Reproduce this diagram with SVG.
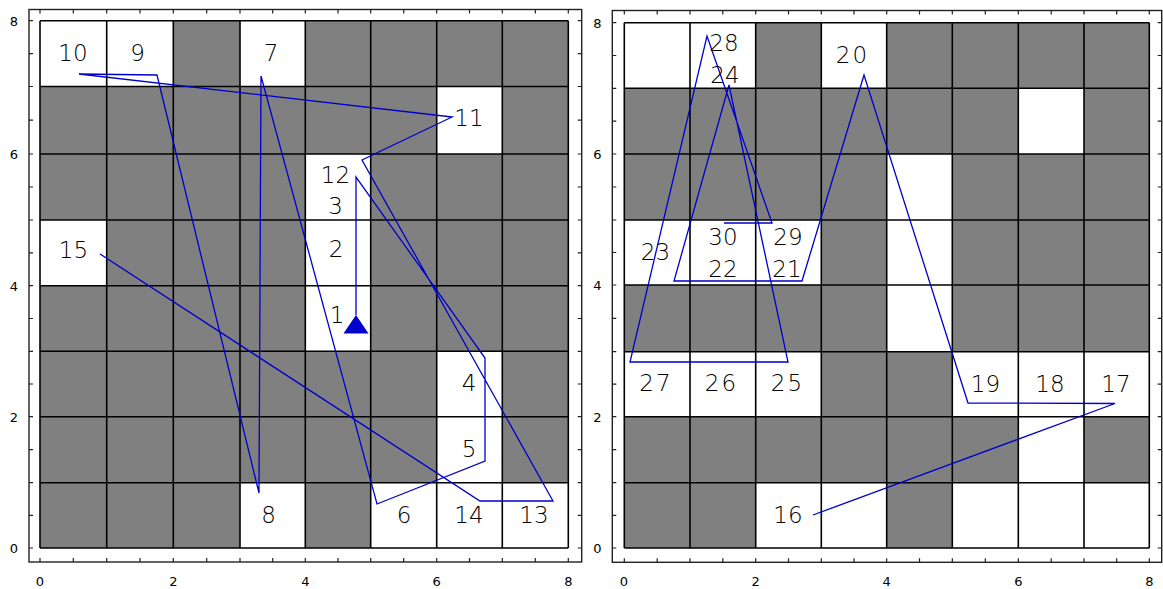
<svg xmlns="http://www.w3.org/2000/svg" width="1163" height="589" viewBox="0 0 1163 589">
<style>
.bg{fill:#ffffff}
.dark{fill:#808080}
.white{fill:#ffffff}
.grid{fill:none;stroke:#000;stroke-width:1.6}
.frame{fill:none;stroke:#222;stroke-width:1.4}
.tick{fill:none;stroke:#222;stroke-width:1.2}
.path{fill:none;stroke:#0000cc;stroke-width:1.3;stroke-linejoin:miter}
.lbl{font-family:"DejaVu Sans","Liberation Sans",sans-serif;font-size:23px;font-weight:300;fill:#000;text-anchor:middle}
.ax{font-family:"DejaVu Sans","Liberation Sans",sans-serif;font-size:13px;fill:#000;text-anchor:middle}
</style>
<rect class="bg" x="0" y="0" width="1163" height="589"/>

<!-- LEFT PANEL -->
<g id="left-panel">
  <g id="left-frame">
    <rect class="frame" x="29" y="9.5" width="552.7" height="552.5"/>
    <path class="tick" d="M40,562v-4M73.3,562v-4M106.7,562v-4M140,562v-4M173.3,562v-4M206.7,562v-4M240,562v-4M272.7,562v-4M305.3,562v-4M338,562v-4M370.7,562v-4M403.7,562v-4M436.7,562v-4M469.5,562v-4M502.3,562v-4M535.3,562v-4M568.3,562v-4
    M40,9.5v4M73.3,9.5v4M106.7,9.5v4M140,9.5v4M173.3,9.5v4M206.7,9.5v4M240,9.5v4M272.7,9.5v4M305.3,9.5v4M338,9.5v4M370.7,9.5v4M403.7,9.5v4M436.7,9.5v4M469.5,9.5v4M502.3,9.5v4M535.3,9.5v4M568.3,9.5v4
    M29,548h4M29,515.3h4M29,482.7h4M29,449.7h4M29,416.7h4M29,384h4M29,351.3h4M29,318.5h4M29,285.7h4M29,252.8h4M29,220h4M29,187h4M29,154h4M29,120.2h4M29,86.5h4M29,53.6h4M29,20.7h4
    M581.7,548h-4M581.7,515.3h-4M581.7,482.7h-4M581.7,449.7h-4M581.7,416.7h-4M581.7,384h-4M581.7,351.3h-4M581.7,318.5h-4M581.7,285.7h-4M581.7,252.8h-4M581.7,220h-4M581.7,187h-4M581.7,154h-4M581.7,120.2h-4M581.7,86.5h-4M581.7,53.6h-4M581.7,20.7h-4"/>
    <text class="ax" x="14" y="26">8</text>
    <text class="ax" x="14" y="159">6</text>
    <text class="ax" x="14" y="290.5">4</text>
    <text class="ax" x="14" y="421.5">2</text>
    <text class="ax" x="14" y="553">0</text>
    <text class="ax" x="40" y="586">0</text>
    <text class="ax" x="173.3" y="586">2</text>
    <text class="ax" x="305.3" y="586">4</text>
    <text class="ax" x="436.7" y="586">6</text>
    <text class="ax" x="568.3" y="586">8</text>
  </g>
  <g id="left-board">
    <rect class="dark" x="40" y="20.7" width="528.3" height="527.3"/>
    <rect class="white" x="40" y="20.7" width="66.7" height="65.8"/>
    <rect class="white" x="106.7" y="20.7" width="66.6" height="65.8"/>
    <rect class="white" x="240" y="20.7" width="65.3" height="65.8"/>
    <rect class="white" x="436.7" y="86.5" width="65.6" height="67.5"/>
    <rect class="white" x="305.3" y="154" width="65.4" height="66"/>
    <rect class="white" x="40" y="220" width="66.7" height="65.7"/>
    <rect class="white" x="305.3" y="220" width="65.4" height="65.7"/>
    <rect class="white" x="305.3" y="285.7" width="65.4" height="65.6"/>
    <rect class="white" x="436.7" y="351.3" width="65.6" height="65.4"/>
    <rect class="white" x="436.7" y="416.7" width="65.6" height="66"/>
    <rect class="white" x="240" y="482.7" width="65.3" height="65.3"/>
    <rect class="white" x="370.7" y="482.7" width="66" height="65.3"/>
    <rect class="white" x="436.7" y="482.7" width="65.6" height="65.3"/>
    <rect class="white" x="502.3" y="482.7" width="66" height="65.3"/>
    <path class="grid" d="M40,20.7V548M106.7,20.7V548M173.3,20.7V548M240,20.7V548M305.3,20.7V548M370.7,20.7V548M436.7,20.7V548M502.3,20.7V548M568.3,20.7V548
    M40,20.7H568.3M40,86.5H568.3M40,154H568.3M40,220H568.3M40,285.7H568.3M40,351.3H568.3M40,416.7H568.3M40,482.7H568.3M40,548H568.3"/>
  </g>
  <g id="left-connectors">
    <path class="path" d="M356,315V177L485,358V461L377,504L261,76L259,493L157,75L79,74L452,117L362,160L553,501L480,501L100,254"/>
    <polygon points="356,315 368.5,333.5 343.5,333.5" fill="#0000cc"/>
  </g>
  <g id="left-labels">
    <text class="lbl" x="73" y="61">10</text>
    <text class="lbl" x="137.5" y="61">9</text>
    <text class="lbl" x="271" y="61">7</text>
    <text class="lbl" x="469" y="126">11</text>
    <text class="lbl" x="335.5" y="183">12</text>
    <text class="lbl" x="335.5" y="214">3</text>
    <text class="lbl" x="336" y="257">2</text>
    <text class="lbl" x="337" y="323">1</text>
    <text class="lbl" x="469" y="390.5">4</text>
    <text class="lbl" x="469" y="457">5</text>
    <text class="lbl" x="404" y="523">6</text>
    <text class="lbl" x="469" y="523">14</text>
    <text class="lbl" x="534" y="523">13</text>
    <text class="lbl" x="268.5" y="523">8</text>
    <text class="lbl" x="73.5" y="258">15</text>
  </g>
</g>

<!-- RIGHT PANEL -->
<g id="right-panel">
  <g id="right-frame">
    <rect class="frame" x="612.3" y="10.5" width="549.4" height="551.8"/>
    <path class="tick" d="M624.3,562.3v-4M657.2,562.3v-4M690,562.3v-4M722.8,562.3v-4M755.7,562.3v-4M788.5,562.3v-4M821.3,562.3v-4M854,562.3v-4M886.7,562.3v-4M919.5,562.3v-4M952.3,562.3v-4M985.3,562.3v-4M1018.3,562.3v-4M1051.2,562.3v-4M1084,562.3v-4M1116.7,562.3v-4M1149.3,562.3v-4
    M624.3,10.5v4M657.2,10.5v4M690,10.5v4M722.8,10.5v4M755.7,10.5v4M788.5,10.5v4M821.3,10.5v4M854,10.5v4M886.7,10.5v4M919.5,10.5v4M952.3,10.5v4M985.3,10.5v4M1018.3,10.5v4M1051.2,10.5v4M1084,10.5v4M1116.7,10.5v4M1149.3,10.5v4
    M612.3,548h4M612.3,515.3h4M612.3,482.7h4M612.3,449.7h4M612.3,416.7h4M612.3,384.2h4M612.3,351.7h4M612.3,318.3h4M612.3,285h4M612.3,252.5h4M612.3,220h4M612.3,187h4M612.3,154h4M612.3,121.2h4M612.3,88.3h4M612.3,55.5h4M612.3,22.7h4
    M1161.7,548h-4M1161.7,515.3h-4M1161.7,482.7h-4M1161.7,449.7h-4M1161.7,416.7h-4M1161.7,384.2h-4M1161.7,351.7h-4M1161.7,318.3h-4M1161.7,285h-4M1161.7,252.5h-4M1161.7,220h-4M1161.7,187h-4M1161.7,154h-4M1161.7,121.2h-4M1161.7,88.3h-4M1161.7,55.5h-4M1161.7,22.7h-4"/>
    <text class="ax" x="597.5" y="28">8</text>
    <text class="ax" x="597.5" y="159">6</text>
    <text class="ax" x="597.5" y="290">4</text>
    <text class="ax" x="597.5" y="421.5">2</text>
    <text class="ax" x="597.5" y="553">0</text>
    <text class="ax" x="624" y="586">0</text>
    <text class="ax" x="755.7" y="586">2</text>
    <text class="ax" x="886.7" y="586">4</text>
    <text class="ax" x="1018.3" y="586">6</text>
    <text class="ax" x="1149.3" y="586">8</text>
  </g>
  <g id="right-board">
    <rect class="dark" x="624.3" y="22.7" width="525" height="525.3"/>
    <rect class="white" x="624.3" y="22.7" width="65.7" height="65.6"/>
    <rect class="white" x="690" y="22.7" width="65.7" height="65.6"/>
    <rect class="white" x="821.3" y="22.7" width="65.4" height="65.6"/>
    <rect class="white" x="1018.3" y="88.3" width="65.7" height="65.7"/>
    <rect class="white" x="886.7" y="154" width="65.6" height="66"/>
    <rect class="white" x="624.3" y="220" width="65.7" height="65"/>
    <rect class="white" x="690" y="220" width="65.7" height="65"/>
    <rect class="white" x="755.7" y="220" width="65.6" height="65"/>
    <rect class="white" x="886.7" y="220" width="65.6" height="65"/>
    <rect class="white" x="886.7" y="285" width="65.6" height="66.7"/>
    <rect class="white" x="624.3" y="351.7" width="65.7" height="65"/>
    <rect class="white" x="690" y="351.7" width="65.7" height="65"/>
    <rect class="white" x="755.7" y="351.7" width="65.6" height="65"/>
    <rect class="white" x="952.3" y="351.7" width="66" height="65"/>
    <rect class="white" x="1018.3" y="351.7" width="65.7" height="65"/>
    <rect class="white" x="1084" y="351.7" width="65.3" height="65"/>
    <rect class="white" x="1018.3" y="416.7" width="65.7" height="66"/>
    <rect class="white" x="755.7" y="482.7" width="65.6" height="65.3"/>
    <rect class="white" x="821.3" y="482.7" width="65.4" height="65.3"/>
    <rect class="white" x="952.3" y="482.7" width="66" height="65.3"/>
    <rect class="white" x="1018.3" y="482.7" width="65.7" height="65.3"/>
    <rect class="white" x="1084" y="482.7" width="65.3" height="65.3"/>
    <path class="grid" d="M624.3,22.7V548M690,22.7V548M755.7,22.7V548M821.3,22.7V548M886.7,22.7V548M952.3,22.7V548M1018.3,22.7V548M1084,22.7V548M1149.3,22.7V548
    M624.3,22.7H1149.3M624.3,88.3H1149.3M624.3,154H1149.3M624.3,220H1149.3M624.3,285H1149.3M624.3,351.7H1149.3M624.3,416.7H1149.3M624.3,482.7H1149.3M624.3,548H1149.3"/>
  </g>
  <g id="right-connectors">
    <path class="path" d="M813,515L1115,403.5L968,403L864,75L802,281L674,281L729,85L788,362L630,362L707,36L772,223L724,223"/>
  </g>
  <g id="right-labels">
    <text class="lbl" x="724" y="50.5">28</text>
    <text class="lbl" x="725" y="82.5">24</text>
    <text class="lbl" x="852.5" y="62.5" letter-spacing="2">20</text>
    <text class="lbl" x="655.5" y="260">23</text>
    <text class="lbl" x="723" y="245">30</text>
    <text class="lbl" x="723" y="276.5">22</text>
    <text class="lbl" x="788" y="245">29</text>
    <text class="lbl" x="787" y="276.5">21</text>
    <text class="lbl" x="656" y="390.5" letter-spacing="2">27</text>
    <text class="lbl" x="721.5" y="390.5" letter-spacing="2">26</text>
    <text class="lbl" x="787.5" y="390.5" letter-spacing="2">25</text>
    <text class="lbl" x="985.5" y="391.5">19</text>
    <text class="lbl" x="1050" y="391.5">18</text>
    <text class="lbl" x="1116" y="391.5">17</text>
    <text class="lbl" x="788" y="523">16</text>
  </g>
</g>
</svg>
